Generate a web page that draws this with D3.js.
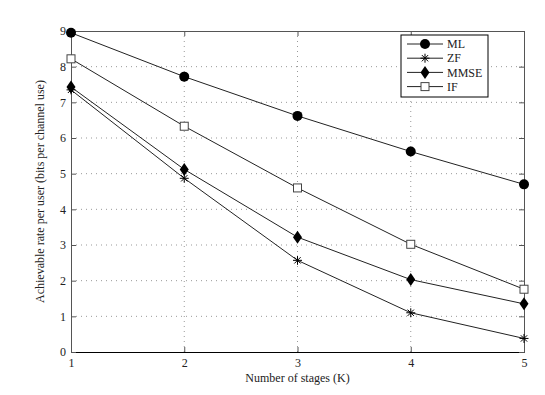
<!DOCTYPE html>
<html>
<head>
<meta charset="utf-8">
<script src="https://cdn.jsdelivr.net/npm/d3@7"></script>
<style>
  body { margin: 0; background: #fff; }
  text { font-family: "Liberation Serif", "Times New Roman", serif; }
</style>
</head>
<body>
<div id="root"></div>
<script>
// data
var stages = [1, 2, 3, 4, 5];
var ml   = [8.95, 7.72, 6.62, 5.62, 4.70];
var zf   = [7.35, 4.87, 2.57, 1.10, 0.38];
var mmse = [7.43, 5.12, 3.22, 2.03, 1.35];
var ifr  = [8.22, 6.33, 4.60, 3.02, 1.76];
var yTicks = [0, 1, 2, 3, 4, 5, 6, 7, 8, 9];
var seriesNames = ["ML", "ZF", "MMSE", "IF"];

var width = 545, height = 395;
var margin = {top: 31, right: 21, bottom: 43, left: 71};
var w = width - margin.left - margin.right,
    h = height - margin.top - margin.bottom;
var fs = 12;

var svg = d3.select("#root").append("svg")
  .attr("width", width)
  .attr("height", height);

var g = svg.append("g")
  .attr("transform", "translate(" + margin.left + "," + margin.top + ")");

var x = d3.scaleLinear().domain([1, 5]).range([0, w]);
var y = d3.scaleLinear().domain([0, 9]).range([h, 0]);

// grid
g.selectAll(".gx").data(stages.slice(1, -1)).enter().append("line")
  .attr("x1", function(d){ return x(d); })
  .attr("x2", function(d){ return x(d); })
  .attr("y1", 0).attr("y2", h)
  .attr("stroke", "#999").attr("stroke-width", 1)
  .attr("stroke-dasharray", "1,4");
g.selectAll(".gy").data(yTicks.slice(1, -1)).enter().append("line")
  .attr("x1", 0).attr("x2", w)
  .attr("y1", function(d){ return y(d); })
  .attr("y2", function(d){ return y(d); })
  .attr("stroke", "#999").attr("stroke-width", 1)
  .attr("stroke-dasharray", "1,4");

// axes (ticks inward, matlab style)
var xAxis = d3.axisBottom(x).tickValues(stages).tickSize(-5).tickPadding(6).tickFormat(d3.format("d"));
var yAxis = d3.axisLeft(y).tickValues(yTicks).tickSize(-5).tickPadding(5).tickFormat(d3.format("d"));
var xTop = d3.axisTop(x).tickValues(stages).tickSize(-5).tickFormat("");
var yRight = d3.axisRight(y).tickValues(yTicks).tickSize(-5).tickFormat("");

function style(sel) {
  sel.selectAll("path").attr("stroke", "#555");
  sel.selectAll("line").attr("stroke", "#555");
  sel.selectAll("text").attr("font-size", fs).attr("fill", "#222")
    .style("font-family", "'Liberation Serif', serif");
}
g.append("g").attr("transform", "translate(0," + h + ")").call(xAxis).call(style)
  .select("path").attr("stroke", "#000");
g.append("g").call(yAxis).call(style);
g.append("g").call(xTop).call(style);
g.append("g").attr("transform", "translate(" + w + ",0)").call(yRight).call(style);

// labels
svg.append("text")
  .attr("x", margin.left + w / 2).attr("y", 382)
  .attr("text-anchor", "middle").attr("font-size", fs).attr("fill", "#222")
  .text("Number of stages (K)");
svg.append("text")
  .attr("transform", "translate(44," + (margin.top + h / 2) + ") rotate(-90)")
  .attr("text-anchor", "middle").attr("font-size", fs).attr("fill", "#222")
  .text("Achievable rate per user (bits per channel use)");

// markers
function drawMarker(sel, type) {
  if (type === "ML") {
    sel.append("circle").attr("r", 5).attr("fill", "#000");
  } else if (type === "ZF") {
    var s = 4.5;
    sel.append("path")
      .attr("d", "M" + (-s) + ",0H" + s + "M0," + (-s) + "V" + s +
                 "M" + (-s * 0.7) + "," + (-s * 0.7) + "L" + (s * 0.7) + "," + (s * 0.7) +
                 "M" + (-s * 0.7) + "," + (s * 0.7) + "L" + (s * 0.7) + "," + (-s * 0.7))
      .attr("stroke", "#000").attr("stroke-width", 1).attr("fill", "none");
  } else if (type === "MMSE") {
    sel.append("path").attr("d", "M0,-6.5L4.5,0L0,6.5L-4.5,0Z").attr("fill", "#000");
  } else {
    sel.append("rect").attr("x", -4).attr("y", -4).attr("width", 8).attr("height", 8)
      .attr("fill", "#fff").attr("stroke", "#444").attr("stroke-width", 1);
  }
}

var series = [ml, zf, mmse, ifr];
var line = d3.line()
  .x(function(d, i){ return x(stages[i]); })
  .y(function(d){ return y(d); });

series.forEach(function(vals, k) {
  g.append("path").datum(vals)
    .attr("d", line)
    .attr("fill", "none").attr("stroke", "#222").attr("stroke-width", 1);
});
series.forEach(function(vals, k) {
  g.selectAll(".m" + k).data(vals).enter().append("g")
    .attr("transform", function(d, i){ return "translate(" + x(stages[i]) + "," + y(d) + ")"; })
    .each(function(){ drawMarker(d3.select(this), seriesNames[k]); });
});

// legend
var lg = svg.append("g").attr("transform", "translate(401,35)");
lg.append("rect").attr("width", 87).attr("height", 62)
  .attr("fill", "#fff").attr("stroke", "#000").attr("stroke-width", 1);
var items = lg.selectAll(".li").data(seriesNames).enter().append("g")
  .attr("transform", function(d, i){ return "translate(0," + (9 + i * 14.2) + ")"; });
items.append("line").attr("x1", 6).attr("x2", 42).attr("y1", 0).attr("y2", 0)
  .attr("stroke", "#222").attr("stroke-width", 1);
items.append("g").attr("transform", "translate(24,0)")
  .each(function(d){ drawMarker(d3.select(this), d); });
items.append("text").attr("x", 46).attr("y", 4.2)
  .attr("font-size", fs).attr("fill", "#222")
  .text(function(d){ return d; });
</script>
</body>
</html>
